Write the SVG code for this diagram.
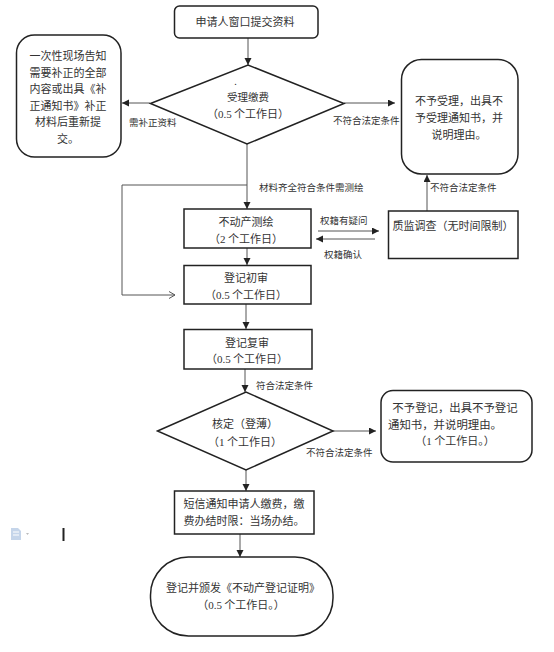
<svg xmlns="http://www.w3.org/2000/svg" width="554" height="652" viewBox="0 0 554 652">
<style>
.s{fill:#fff;stroke:#222;stroke-width:1.5}
.t{font-family:"Noto Sans CJK SC","Liberation Sans",sans-serif;font-size:11px;fill:#333;text-anchor:middle}
.l{font-family:"Noto Sans CJK SC","Liberation Sans",sans-serif;font-size:9.5px;fill:#333}
.n{font-family:"Liberation Serif",serif}
.c{fill:none;stroke:#555;stroke-width:1}
.a{marker-end:url(#ah)}
</style>
<defs>
<marker id="ah" markerUnits="userSpaceOnUse" markerWidth="8" markerHeight="8" refX="7" refY="3.5" orient="auto"><path d="M0 0L7 3.5L0 7Z" fill="#222"/></marker>
</defs>
<rect width="554" height="652" fill="#fff"/>
<g id="connectors">
<path class="c a" d="M248 38V65"/>
<path class="c a" d="M150 103H122"/>
<path class="c a" d="M344 103H395"/>
<path class="c a" d="M247 144V209"/>
<path class="c" d="M247 185H122V295"/>
<path class="c" d="M122 295H175M169 291.500L175 295L169 298.500"/>
<path class="c a" d="M247 248V265"/>
<path class="c a" d="M246 304V329"/>
<path class="c a" d="M245 369V392"/>
<path class="c a" d="M318 231H379"/>
<path class="c a" d="M375 239H316"/>
<path class="c a" d="M427 211V175"/>
<path class="c a" d="M333 431H376"/>
<path class="c a" d="M246 470V491"/>
<path class="c a" d="M240 534V557"/>
</g>
<g id="n-submit"><rect class="s" x="174.500" y="6" width="143.500" height="32" rx="5"/><text class="t" x="245" y="26">申请人窗口提交资料</text></g>
<g id="n-notify"><rect class="s" x="16.500" y="35" width="104.500" height="122" rx="18"/>
<text class="t" x="68" y="60">一次性现场告知</text><text class="t" x="68" y="77">需要补正的全部</text><text class="t" x="68" y="93">内容或出具《补</text><text class="t" x="68" y="110">正通知书》补正</text><text class="t" x="68" y="126">材料后重新提</text><text class="t" x="68" y="143">交。</text></g>
<g id="n-accept"><polygon class="s" points="150.500,103.500 248,65 344,103.500 247,144"/>
<text class="t" x="235.500" y="85" style="font-size:9px">.</text>
<text class="t" x="248" y="101" style="font-size:10.500px">受理缴费</text><text class="t" x="248" y="118"><tspan>（</tspan><tspan class="n">0.5</tspan><tspan> 个工作日）</tspan></text></g>
<g id="n-reject"><rect class="s" x="401.500" y="59.500" width="116.500" height="114.500" rx="20"/>
<text class="t" x="459" y="105">不予受理，出具不</text><text class="t" x="459" y="122">予受理通知书，并</text><text class="t" x="459" y="139">说明理由。</text></g>
<g id="n-survey"><rect class="s" x="184" y="209" width="127" height="39"/><text class="t" x="246" y="226">不动产测绘</text><text class="t" x="246" y="243"><tspan>（</tspan><tspan class="n">2</tspan><tspan> 个工作日）</tspan></text></g>
<g id="n-supervise"><rect class="s" x="388.500" y="211" width="129.500" height="47.500"/><text class="t" x="453" y="230">质监调查（无时间限制）</text></g>
<g id="n-first"><rect class="s" x="184" y="265.500" width="127" height="38.500"/><text class="t" x="246" y="282">登记初审</text><text class="t" x="246" y="299"><tspan>（</tspan><tspan class="n">0.5</tspan><tspan> 个工作日）</tspan></text></g>
<g id="n-second"><rect class="s" x="184" y="329.500" width="128" height="39.500"/><text class="t" x="247" y="347">登记复审</text><text class="t" x="247" y="363"><tspan>（</tspan><tspan class="n">0.5</tspan><tspan> 个工作日）</tspan></text></g>
<g id="n-verify"><polygon class="s" points="157.500,431 246,392 333,431 246,470"/><text class="t" x="245" y="428">核定（登薄）</text><text class="t" x="245" y="446"><tspan>（</tspan><tspan class="n">1</tspan><tspan> 个工作日）</tspan></text></g>
<g id="n-refuse"><rect class="s" x="381" y="390.500" width="151" height="71.500" rx="12"/><text class="t" x="455" y="412" style="font-size:11.400px">不予登记，出具不予登记</text><text class="t" x="445" y="429" style="font-size:11.400px">通知书，并说明理由。</text><text class="t" x="455" y="445"><tspan>（</tspan><tspan class="n">1</tspan><tspan> 个工作日。）</tspan></text></g>
<g id="n-sms"><rect class="s" x="174.500" y="491" width="139.500" height="43"/><text class="t" x="244" y="508">短信通知申请人缴费，缴</text><text class="t" x="244" y="525">费办结时限：当场办结。</text></g>
<g id="n-issue"><rect class="s" x="150.500" y="557" width="182.500" height="79" rx="38"/><text class="t" x="243" y="592">登记并颁发《不动产登记证明》</text><text class="t" x="241" y="609"><tspan>（</tspan><tspan class="n">0.5</tspan><tspan> 个工作日。）</tspan></text></g>
<g id="labels">
<text class="l" x="129" y="126">需补正资料</text>
<text class="l" x="333" y="124">不符合法定条件</text>
<text class="l" x="259" y="191">材料齐全符合条件需测绘</text>
<text class="l" x="320" y="224">权籍有疑问</text>
<text class="l" x="324" y="258">权籍确认</text>
<text class="l" x="430" y="191">不符合法定条件</text>
<text class="l" x="256" y="389">符合法定条件</text>
<text class="l" x="306" y="456">不符合法定条件</text>
</g>
<g id="cursor">
<path d="M11 528H18L21 531V540H11Z" fill="#c5d5ea"/><path d="M13 532H19M13 535H19" stroke="#fff"/>
<path d="M26 533H29L27.500 535Z" fill="#bbb"/>
<rect x="62.500" y="528" width="2" height="13" fill="#222"/>
</g>
</svg>
